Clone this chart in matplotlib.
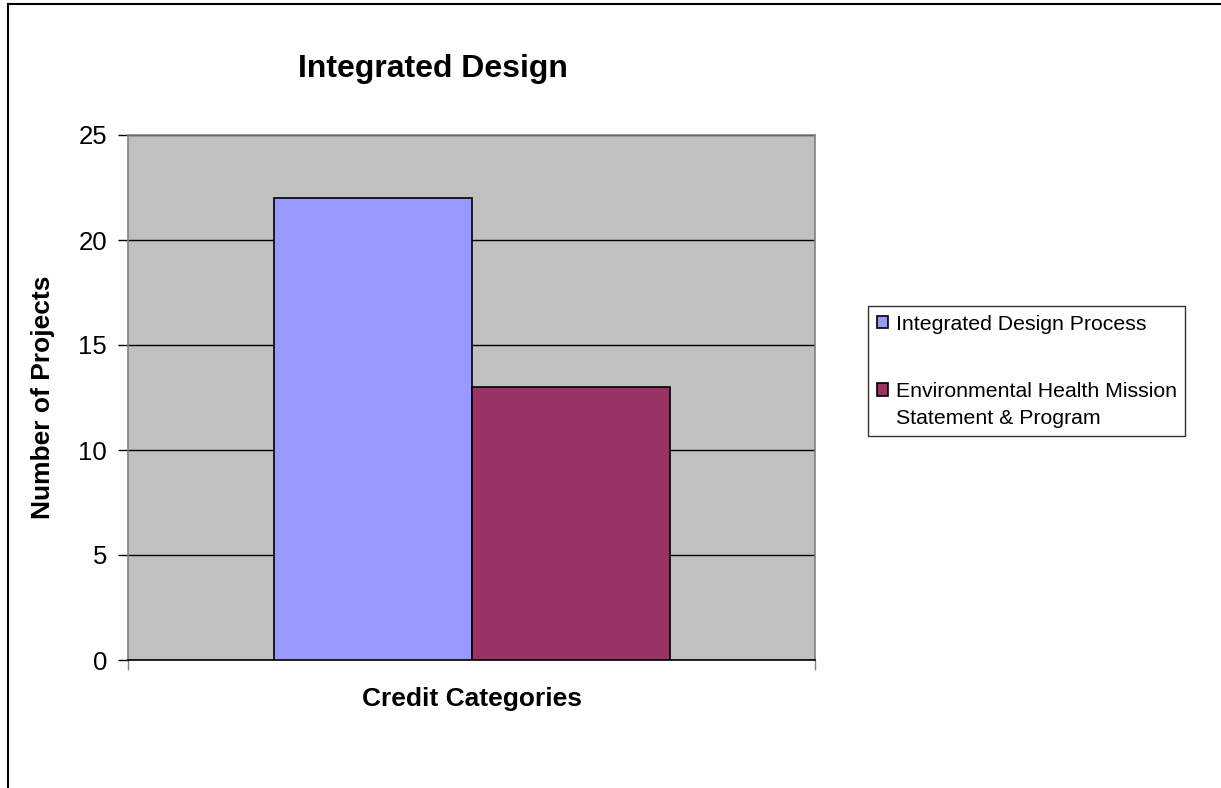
import matplotlib.pyplot as plt
from matplotlib.patches import Rectangle
from matplotlib.legend_handler import HandlerPatch

# credit counts
series_names = ['Integrated Design Process',
                'Environmental Health Mission\nStatement & Program']
series_values = [22, 13]
series_colors = ['#9999FF', '#993366']

plt.rcParams['font.family'] = ['Liberation Sans', 'DejaVu Sans']

W, H = 1221, 788
fig = plt.figure(figsize=(W / 100, H / 100), dpi=100)

# outer chart frame (left and top edges visible)
fig.add_artist(plt.Line2D([8 / W, 8 / W], [0, 1 - 4 / H], color='black', lw=1.5))
fig.add_artist(plt.Line2D([8 / W, 1220 / W], [1 - 4 / H, 1 - 4 / H], color='black', lw=1.5))

left, right, top, bottom = 128, 815, 135, 660
ax = fig.add_axes([left / W, 1 - bottom / H, (right - left) / W, (bottom - top) / H])
ax.set_facecolor('#C0C0C0')

bar_w = 198 / (right - left)
xs = [-bar_w / 2, bar_w / 2]
bars = []
for x, v, c in zip(xs, series_values, series_colors):
    b = ax.bar(x, v, width=bar_w, color=c, edgecolor='black', linewidth=1.2, zorder=3)
    bars.append(b)

ax.set_xlim(-0.5, 0.5)
ax.set_ylim(0, 25)
ax.set_yticks(range(0, 26, 5))
ax.yaxis.grid(True, color='black', lw=1, zorder=1)
ax.set_axisbelow(True)
ax.set_xticks([-0.5, 0.5])
ax.set_xticklabels(['', ''])
ax.tick_params(axis='y', labelsize=18.5, direction='out', length=7, width=1, pad=8)
ax.tick_params(axis='x', direction='out', length=7, width=1, color='#808080')
for s in ['top', 'right', 'left']:
    ax.spines[s].set_color('#808080')
ax.spines['bottom'].set_color('black')
for s in ax.spines.values():
    s.set_linewidth(1.2)

ax.set_ylabel('Number of Projects', fontsize=19, fontweight='bold', labelpad=17)
ax.set_xlabel('Credit Categories', fontsize=19, fontweight='bold', labelpad=9)
fig.text(433 / W, 1 - 69 / H, 'Integrated Design', fontsize=23, fontweight='bold',
         ha='center', va='center')

line_gap = 1.5 * 15.3  # spacing between lines of a legend label, points


def square_handle(shift_lines):
    # keep the swatch level with the first line of a wrapped label
    def make(legend, orig_handle, xdescent, ydescent, width, height, fontsize):
        dy = shift_lines * line_gap / 2
        return Rectangle((-xdescent, -ydescent + dy), width, height)
    return HandlerPatch(patch_func=make)


handles = [b[0] for b in bars]
handler_map = {h: square_handle(lbl.count('\n')) for h, lbl in zip(handles, series_names)}

leg = fig.legend(handles, series_names, loc='upper left',
                 bbox_to_anchor=(868 / W, 1 - 306 / H), fontsize=15.3,
                 frameon=True, fancybox=False, edgecolor='black', handlelength=0.55,
                 handleheight=0.55, handletextpad=0.35, labelspacing=2.3, borderpad=0.4,
                 borderaxespad=0, handler_map=handler_map)
leg.get_frame().set_linewidth(1)
for t in leg.get_texts():
    t.set_linespacing(1.5)

fig.savefig('out.png', dpi=100)
